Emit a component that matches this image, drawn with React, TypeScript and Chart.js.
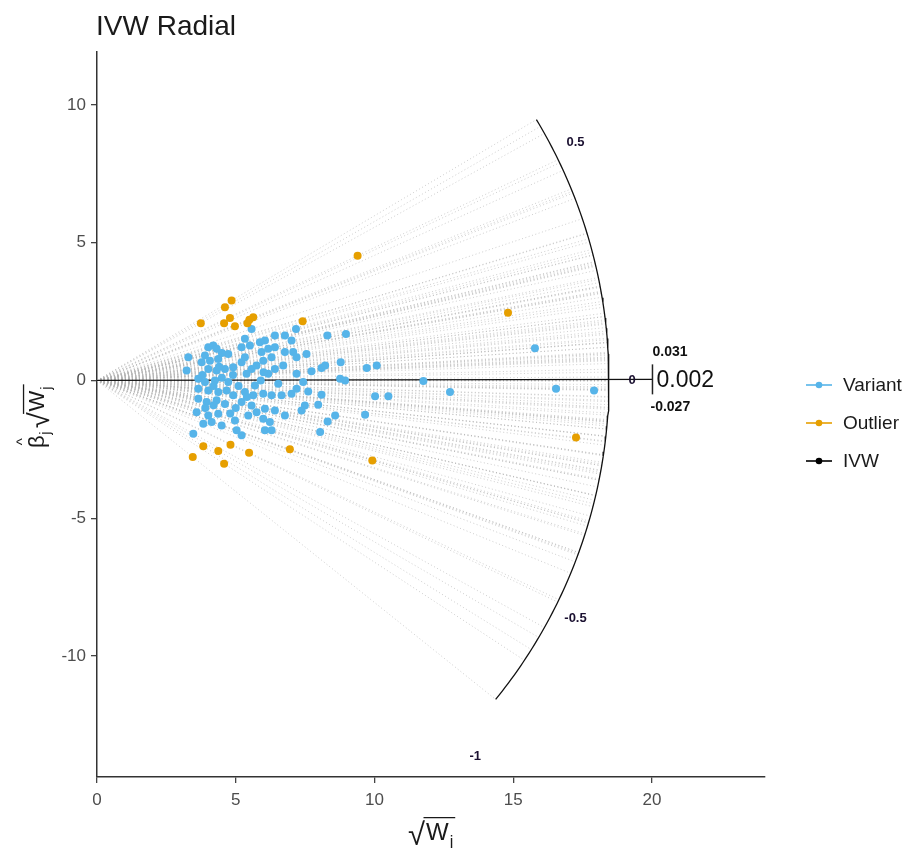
import React, { useEffect, useRef } from "react";
import { Chart, registerables } from "chart.js";
Chart.register(...registerables);

const chartTitle = "IVW Radial";
const legendLabels = ["Variant", "Outlier", "IVW"];
const legendColors = ["#56B4E9", "#E69F00", "#000000"];

// sqrt(W_j) and beta_j*sqrt(W_j) for the variants
const variantX = [
  3.29, 3.23, 4.01, 4.19, 4.31, 3.89, 3.77, 4.07, 4.37, 4.73, 4.01, 4.31, 4.61, 4.91,
  3.65, 3.89, 4.25, 4.73, 3.65, 4.01, 4.37, 4.67, 4.91, 3.65, 3.95, 4.31, 4.61, 3.59,
  4.01, 4.37, 4.13, 4.49, 4.97, 5.03, 5.21, 3.47, 3.83, 5.21, 5.33, 5.21, 5.33, 5.57,
  5.51, 5.57, 5.39, 5.75, 5.69, 5.33, 5.63, 5.21, 5.57, 5.75, 5.45, 5.87, 6.05, 5.93,
  6.17, 6.41, 6.29, 5.99, 6.41, 6.17, 6.71, 6.77, 6.77, 6.41, 6.53, 5.99, 6.29, 6.65,
  6.05, 6.41, 5.99, 6.23, 6.05, 6.29, 6.77, 7.17, 7.01, 7.07, 7.19, 7.55, 7.19, 7.73,
  8.09, 8.22, 8.3, 8.97, 8.78, 9.72, 10.08, 7.43, 8.76, 8.94, 7.01, 7.19, 7.61, 8.09,
  7.97, 7.49, 7.37, 8.58, 8.31, 8.04, 10.02, 10.5, 9.66, 11.76, 12.72, 15.78, 16.54,
  17.91, 4.5, 4.9, 5.1, 4.2, 5.0, 4.5, 3.9, 4.8, 5.9, 6.0, 4.4, 3.8, 4.2, 5.4,
];
const variantY = [
  0.84, 0.36, 1.21, 1.27, 1.15, 0.91, 0.66, 0.72, 0.78, 0.96, 0.42, 0.36, 0.42, 0.48,
  0.06, -0.06, 0.0, -0.06, -0.3, -0.36, -0.42, -0.36, -0.54, -0.66, -0.78, -0.72, -0.85, -1.15,
  -1.27, -1.21, -1.51, -1.63, -1.45, -1.81, -1.99, -1.93, -1.57, 0.66, 0.84, 1.21, 1.51, 1.87,
  1.27, 0.42, 0.24, 0.54, -0.18, -0.42, -0.54, -0.78, -0.91, -1.15, -1.27, 1.39, 1.45, 1.03,
  1.15, 1.21, 0.84, 0.72, 0.42, 0.24, 0.54, 1.03, 1.63, 1.63, -0.12, -0.48, -0.54, -0.54,
  -1.03, -1.09, -1.39, -1.51, -1.81, -1.81, -1.27, 1.87, 1.45, 1.03, 0.84, 0.96, 0.24, 0.33,
  0.45, 0.54, 1.63, 1.69, 0.66, 0.45, 0.54, -0.06, 0.06, 0.0, -0.48, -0.3, -0.4, -0.52,
  -0.88, -0.91, -1.09, -1.27, -1.49, -1.87, -0.57, -0.57, -1.24, -0.02, -0.42, 1.17, -0.3,
  -0.36, 0.1, 0.2, -0.2, -0.9, -1.0, 1.0, -1.0, -1.2, 0.0, 0.3, 0.5, 0.2, -0.2, -0.6,
];
const outlierX = [
  4.85, 4.61, 4.79, 4.58, 4.97, 3.74, 5.42, 5.63, 5.49, 7.41, 9.39, 14.81,
  3.45, 3.83, 4.37, 4.81, 4.58, 5.48, 6.95, 9.92, 17.26,
];
const outlierY = [
  2.9, 2.66, 2.27, 2.08, 1.97, 2.08, 2.08, 2.29, 2.2, 2.15, 4.53, 2.46,
  -2.78, -2.39, -2.56, -2.33, -3.02, -2.62, -2.5, -2.9, -2.07,
];

const xTicks = [0, 5, 10, 15, 20];
const yTicks = [-10, -5, 0, 5, 10];
const scaleLabelValues = [0.5, 0, -0.5, -1];
const ivwEstimate = 0.002;
const ivwUpper = 0.031;
const ivwLower = -0.027;

const X_MIN = 0, X_MAX = 24.07, Y_MIN = -14.39, Y_MAX = 11.92;

const FONT = "'Liberation Sans', Arial, sans-serif";

function drawRadicalText(ctx: CanvasRenderingContext2D, x: number, y: number, size: number) {
  // draws "√W_j" starting at x with baseline y, returns width
  const rad = "\u221A";
  ctx.font = `${Math.round(size * 1.3)}px ${FONT}`;
  ctx.textAlign = "left";
  ctx.textBaseline = "alphabetic";
  const rw = ctx.measureText(rad).width;
  ctx.fillText(rad, x, y + size * 0.22);
  ctx.font = `${size}px ${FONT}`;
  const wW = ctx.measureText("W").width;
  ctx.fillText("W", x + rw + 1, y);
  ctx.font = `${Math.round(size * 0.68)}px ${FONT}`;
  const jw = ctx.measureText("j").width;
  ctx.fillText("j", x + rw + wW + 2, y + size * 0.3);
  const total = rw + wW + jw + 4;
  ctx.beginPath();
  ctx.lineWidth = 1.3;
  ctx.moveTo(x + rw - 1.5, y - size * 0.93);
  ctx.lineTo(x + total, y - size * 0.93);
  ctx.stroke();
  return total;
}

export default function App() {
  const ref = useRef<HTMLCanvasElement | null>(null);

  useEffect(() => {
    document.body.style.margin = "0";
    const canvas = ref.current;
    if (!canvas) return;

    const allX = [...variantX, ...outlierX];
    const allY = [...variantY, ...outlierY];
    const R = 1.03 * Math.max(...allX);
    const labelR = R * 1.045;
    const barX = R * 1.085;

    // ratio-estimate lines from origin to the arc
    const greyLines: any[] = [];
    let thMin = Infinity, thMax = -Infinity;
    for (let i = 0; i < allX.length; i++) {
      const th = Math.atan2(allY[i], allX[i]);
      thMin = Math.min(thMin, th);
      thMax = Math.max(thMax, th);
      greyLines.push({ x: 0, y: 0 });
      greyLines.push({ x: R * Math.cos(th), y: R * Math.sin(th) });
      greyLines.push({ x: 0, y: null });
    }
    const arc: any[] = [];
    const N = 120;
    for (let k = 0; k <= N; k++) {
      const th = thMax + (thMin - thMax) * (k / N);
      arc.push({ x: R * Math.cos(th), y: R * Math.sin(th) });
    }

    const overlay = {
      id: "overlay",
      afterDraw(chart: any) {
        const ctx: CanvasRenderingContext2D = chart.ctx;
        const xs = chart.scales.x, ys = chart.scales.y;
        ctx.save();
        // title
        ctx.fillStyle = "#1a1a1a";
        ctx.font = `28px ${FONT}`;
        ctx.textAlign = "left";
        ctx.textBaseline = "alphabetic";
        ctx.fillText(chartTitle, 96, 35);

        // scale labels on arc
        ctx.font = `bold 13px ${FONT}`;
        ctx.textAlign = "center";
        ctx.textBaseline = "middle";
        ctx.fillStyle = "#1a1030";
        for (const v of scaleLabelValues) {
          const th = Math.atan(v);
          const px = xs.getPixelForValue(labelR * Math.cos(th));
          const py = ys.getPixelForValue(labelR * Math.sin(th));
          ctx.fillText(String(v), px, py);
        }

        // IVW CI bar
        const bx = xs.getPixelForValue(barX);
        const by = ys.getPixelForValue(ivwEstimate * barX);
        ctx.strokeStyle = "#222";
        ctx.lineWidth = 1.5;
        ctx.beginPath();
        ctx.moveTo(bx, by - 15);
        ctx.lineTo(bx, by + 15);
        ctx.stroke();
        ctx.fillStyle = "#111";
        ctx.textAlign = "left";
        ctx.font = `23px ${FONT}`;
        ctx.fillText(ivwEstimate.toFixed(3), bx + 4, by + 1);
        ctx.font = `bold 14px ${FONT}`;
        ctx.fillText(ivwUpper.toFixed(3), bx, by - 27);
        ctx.fillText(ivwLower.toFixed(3), bx - 2, by + 28);

        // legend
        const ly0 = 385, lstep = 38;
        for (let i = 0; i < legendLabels.length; i++) {
          const yy = ly0 + i * lstep;
          ctx.strokeStyle = legendColors[i];
          ctx.fillStyle = legendColors[i];
          ctx.lineWidth = 1.6;
          ctx.beginPath();
          ctx.moveTo(806, yy);
          ctx.lineTo(832, yy);
          ctx.stroke();
          ctx.beginPath();
          ctx.arc(819, yy, 3.3, 0, Math.PI * 2);
          ctx.fill();
          ctx.fillStyle = "#1a1a1a";
          ctx.font = `19px ${FONT}`;
          ctx.textAlign = "left";
          ctx.textBaseline = "middle";
          ctx.fillText(legendLabels[i], 843, yy + 1);
        }

        // x axis title
        ctx.fillStyle = "#1a1a1a";
        ctx.strokeStyle = "#1a1a1a";
        drawRadicalText(ctx, 408, 840, 24);

        // y axis title (rotated)
        ctx.translate(44, 413);
        ctx.rotate(-Math.PI / 2);
        ctx.fillStyle = "#1a1a1a";
        ctx.strokeStyle = "#1a1a1a";
        const startX = -35;
        ctx.font = `22px ${FONT}`;
        ctx.textAlign = "left";
        ctx.textBaseline = "alphabetic";
        const bw = ctx.measureText("\u03B2").width;
        ctx.fillText("\u03B2", startX, 0);
        ctx.font = `15px ${FONT}`;
        ctx.textAlign = "center";
        ctx.fillText("^", startX + bw / 2, -17);
        ctx.textAlign = "left";
        ctx.fillText("j", startX + bw + 0.5, 6);
        drawRadicalText(ctx, startX + bw + 7, 0, 22);
        ctx.restore();
      },
    };

    const chart = new Chart(canvas, {
      type: "scatter",
      data: {
        datasets: [
          {
            label: legendLabels[0],
            data: variantX.map((x, i) => ({ x, y: variantY[i] })),
            backgroundColor: legendColors[0],
            borderWidth: 0,
            pointRadius: 4,
            order: 1,
          },
          {
            label: legendLabels[1],
            data: outlierX.map((x, i) => ({ x, y: outlierY[i] })),
            backgroundColor: legendColors[1],
            borderWidth: 0,
            pointRadius: 4,
            order: 0,
          },
          {
            label: legendLabels[2],
            data: [
              { x: 0, y: 0 },
              { x: barX, y: ivwEstimate * barX },
            ],
            showLine: true,
            borderColor: "#111",
            borderWidth: 1.2,
            pointRadius: 0,
            order: 2,
          },
          {
            label: "arc",
            data: arc,
            showLine: true,
            borderColor: "#111",
            borderWidth: 1.3,
            pointRadius: 0,
            order: 3,
          },
          {
            label: "ratio lines",
            data: greyLines,
            showLine: true,
            spanGaps: false,
            borderColor: "rgba(180,180,180,0.65)",
            borderWidth: 1,
            borderDash: [1, 2.5],
            pointRadius: 0,
            order: 4,
          },
        ],
      },
      options: {
        responsive: false,
        animation: false,
        layout: { padding: { top: 52, right: 148, left: 0, bottom: 0 } },
        plugins: {
          legend: { display: false },
          title: { display: false },
          tooltip: { enabled: false },
        },
        scales: {
          x: {
            type: "linear",
            min: X_MIN,
            max: X_MAX,
            afterBuildTicks: (s: any) => {
              s.ticks = xTicks.map((v) => ({ value: v }));
            },
            afterFit: (s: any) => {
              s.height = 71;
            },
            grid: { drawOnChartArea: false, drawTicks: true, tickLength: 6, color: "#444", lineWidth: 1.3 },
            border: { display: true, color: "#333", width: 1.5 },
            ticks: { color: "#4d4d4d", font: { size: 17, family: FONT }, padding: 7 },
          },
          y: {
            type: "linear",
            min: Y_MIN,
            max: Y_MAX,
            afterBuildTicks: (s: any) => {
              s.ticks = yTicks.map((v) => ({ value: v }));
            },
            afterFit: (s: any) => {
              s.width = 97;
            },
            grid: { drawOnChartArea: false, drawTicks: true, tickLength: 6, color: "#444", lineWidth: 1.3 },
            border: { display: true, color: "#333", width: 1.5 },
            ticks: { color: "#4d4d4d", font: { size: 17, family: FONT }, padding: 5 },
          },
        },
      },
      plugins: [overlay],
    });
    return () => chart.destroy();
  }, []);

  return (
    <div style={{ width: 913, height: 848 }}>
      <canvas ref={ref} width={913} height={848} style={{ display: "block" }} />
    </div>
  );
}
